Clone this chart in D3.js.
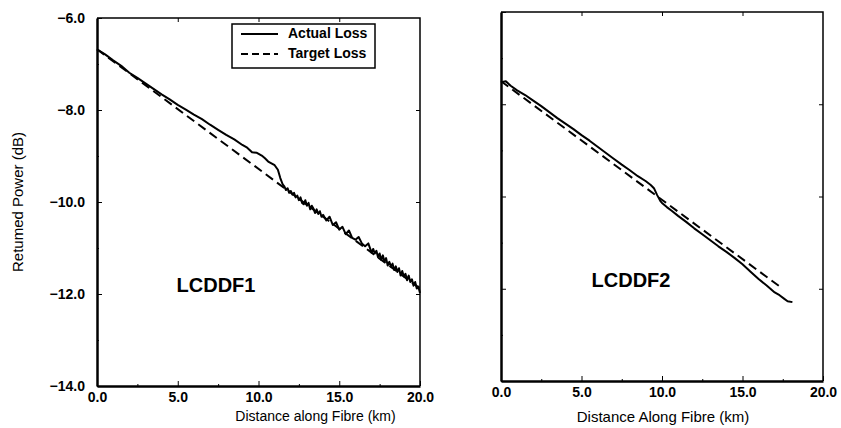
<!DOCTYPE html>
<html>
<head>
<meta charset="utf-8">
<script src="https://cdn.jsdelivr.net/npm/d3@7"></script>
<style>
  body { margin: 0; background: #fff; }
  svg { font-family: "Liberation Sans", Arial, sans-serif; }
</style>
</head>
<body>
<div id="chart"></div>
<script>
// distance (km) and returned power (dB)
const lcddf1Dist = [0, 0.5, 1.0, 1.5, 2.0, 2.5, 3.0, 3.5, 4.0, 4.5, 5.0, 5.5, 6.0, 6.5, 7.0, 7.5, 8.0, 8.5, 9.0, 9.3, 9.6, 9.9, 10.2, 10.4, 10.6, 10.8, 11.0, 11.2, 11.35, 11.5,
    11.6, 11.7, 11.8, 11.9, 12.0, 12.1, 12.2, 12.3, 12.4, 12.5, 12.6, 12.7, 12.8, 12.9, 13.0, 13.1, 13.2, 13.3, 13.4, 13.5, 13.6, 13.7, 13.8, 13.9, 14.0,
    14.2, 14.4, 14.6, 14.8, 15.0, 15.2, 15.4, 15.6, 15.8, 16.0, 16.2, 16.4, 16.6, 16.8, 17.0, 17.1, 17.2, 17.3, 17.4, 17.5, 17.6, 17.7, 17.8, 17.9, 18.0,
    18.1, 18.2, 18.3, 18.4, 18.5, 18.6, 18.7, 18.8, 18.9, 19.0, 19.1, 19.2, 19.3, 19.4, 19.5, 19.6, 19.7, 19.8, 19.9, 20.0];
const lcddf1Actual = [-6.68, -6.79, -6.92, -7.04, -7.19, -7.30, -7.42, -7.54, -7.66, -7.77, -7.89, -7.99, -8.10, -8.20, -8.32, -8.43, -8.54, -8.64, -8.76, -8.82, -8.92, -8.93, -8.99, -9.05, -9.12, -9.16, -9.20, -9.30, -9.48, -9.62,
    -9.66, -9.74, -9.70, -9.80, -9.76, -9.84, -9.80, -9.90, -9.86, -9.96, -9.90, -10.02, -10.05, -9.96, -10.08, -10.02, -10.16, -10.08, -10.14, -10.24, -10.16, -10.26, -10.20, -10.32, -10.28,
    -10.40, -10.32, -10.50, -10.44, -10.60, -10.54, -10.70, -10.62, -10.78, -10.82, -10.76, -10.90, -10.96, -10.90, -11.10, -11.02, -11.12, -11.06, -11.20, -11.12, -11.26, -11.16, -11.30, -11.22, -11.38,
    -11.30, -11.40, -11.34, -11.48, -11.40, -11.52, -11.44, -11.60, -11.50, -11.62, -11.56, -11.70, -11.60, -11.74, -11.68, -11.82, -11.74, -11.88, -11.84, -11.98];
const lcddf1TargetDist = [0, 20];
const lcddf1Target = [-6.68, -11.88];

const lcddf2Dist = [0, 0.3, 0.6, 1.0, 1.5, 2.0, 2.5, 3.0, 3.5, 4.0, 4.5, 5.0, 5.5, 6.0, 6.5, 7.0, 7.5, 8.0, 8.5, 9.0, 9.3, 9.5, 9.7, 9.9,
    10.0, 10.3, 10.6, 11.0, 11.5, 12.0, 12.5, 13.0, 13.5, 14.0, 14.5, 15.0, 15.5, 16.0, 16.5, 17.0, 17.3, 17.6, 17.8, 18.1];
const lcddf2Actual = [-7.52, -7.50, -7.60, -7.70, -7.80, -7.92, -8.04, -8.17, -8.30, -8.42, -8.54, -8.67, -8.79, -8.92, -9.05, -9.18, -9.31, -9.43, -9.56, -9.67, -9.75, -9.82, -9.97, -10.10,
    -10.14, -10.23, -10.31, -10.42, -10.55, -10.69, -10.82, -10.95, -11.08, -11.20, -11.33, -11.47, -11.63, -11.79, -11.93, -12.08, -12.14, -12.22, -12.27, -12.29];
const lcddf2TargetDist = [0, 17.5];
const lcddf2Target = [-7.50, -12.0];

const xTicks = [0, 5, 10, 15, 20];
const xMinor = [2.5, 7.5, 12.5, 17.5];
const yTicks = [-6, -8, -10, -12, -14];
const yMinor = [-7, -9, -11, -13];
const legendLabels = ["Actual Loss", "Target Loss"];

const svg = d3.select("#chart").append("svg")
    .attr("width", 841)
    .attr("height", 428);

const fmt = d3.format(".1f");
const zip = (xs, ys) => xs.map((x, i) => ({ x, y: ys[i] }));

function panel(opts) {
    const x = d3.scaleLinear().domain([0, 20]).range([opts.left, opts.right]);
    const y = d3.scaleLinear().domain([-14, -6]).range([opts.bottom, opts.top]);
    const g = svg.append("g");

    // minor ticks
    g.append("g").attr("transform", `translate(0,${opts.bottom})`)
        .call(d3.axisBottom(x).tickValues(xMinor).tickSize(-2).tickFormat(""))
        .call(a => a.select(".domain").remove());
    g.append("g").attr("transform", `translate(${opts.left},0)`)
        .call(d3.axisLeft(y).tickValues(yMinor).tickSize(-2).tickFormat(""))
        .call(a => a.select(".domain").remove());

    // top / right ticks
    g.append("g").attr("transform", `translate(0,${opts.top})`)
        .call(d3.axisTop(x).tickValues(xTicks.slice(1, 4)).tickSize(-4).tickFormat(""))
        .call(a => a.select(".domain").remove());
    g.append("g").attr("transform", `translate(${opts.right},0)`)
        .call(d3.axisRight(y).tickValues(yTicks.slice(1, 4)).tickSize(-4).tickFormat(""))
        .call(a => a.select(".domain").remove());

    // frame (thin top/right, heavy left/bottom)
    g.append("path")
        .attr("d", `M${opts.left},${opts.top}H${opts.right}V${opts.bottom}`)
        .attr("fill", "none").attr("stroke", "#000").attr("stroke-width", 1.5);

    const xAxis = g.append("g").attr("transform", `translate(0,${opts.bottom})`)
        .call(d3.axisBottom(x).tickValues(xTicks).tickSize(-5).tickSizeOuter(0).tickPadding(6).tickFormat(fmt));
    xAxis.select(".domain").attr("stroke-width", 2.5);
    xAxis.selectAll("text").attr("font-size", 14).attr("font-weight", "bold").attr("font-family", "Liberation Sans");

    const yAxis = g.append("g").attr("transform", `translate(${opts.left},0)`)
        .call(d3.axisLeft(y).tickValues(yTicks).tickSize(-5).tickSizeOuter(0).tickPadding(12)
            .tickFormat(opts.yLabels ? fmt : ""));
    yAxis.select(".domain").attr("stroke-width", 2.5);
    yAxis.selectAll("text").attr("font-size", 14).attr("font-weight", "bold").attr("font-family", "Liberation Sans");

    const line = d3.line().x(d => x(d.x)).y(d => y(d.y)).curve(d3.curveLinear);

    g.append("path")
        .datum(zip(opts.targetDist, opts.target))
        .attr("d", line)
        .attr("fill", "none").attr("stroke", "#000").attr("stroke-width", 2)
        .attr("stroke-dasharray", "9,5");

    g.append("path")
        .datum(zip(opts.dist, opts.actual))
        .attr("d", line)
        .attr("fill", "none").attr("stroke", "#000").attr("stroke-width", 2)
        .attr("stroke-linejoin", "round");

    g.append("text")
        .attr("x", opts.labelX).attr("y", opts.labelY)
        .attr("text-anchor", "middle").attr("dominant-baseline", "middle")
        .attr("font-size", 20).attr("font-weight", "bold")
        .text(opts.name);

    g.append("text")
        .attr("x", (opts.left + opts.right) / 2 + opts.titleShift).attr("y", opts.titleY)
        .attr("text-anchor", "middle").attr("dominant-baseline", "middle")
        .attr("font-size", opts.titleSize)
        .text(opts.title);

    return { x, y, g };
}

panel({
    left: 97, right: 420, top: 18, bottom: 386,
    dist: lcddf1Dist, actual: lcddf1Actual,
    targetDist: lcddf1TargetDist, target: lcddf1Target,
    name: "LCDDF1", labelX: 216, labelY: 287,
    title: "Distance along Fibre (km)", titleY: 417, titleShift: 57, titleSize: 14,
    yLabels: true
});

panel({
    left: 501, right: 823, top: 12, bottom: 381,
    dist: lcddf2Dist, actual: lcddf2Actual,
    targetDist: lcddf2TargetDist, target: lcddf2Target,
    name: "LCDDF2", labelX: 631, labelY: 282,
    title: "Distance Along Fibre (km)", titleY: 418, titleShift: 1, titleSize: 15,
    yLabels: false
});

// y axis title
svg.append("text")
    .attr("transform", "translate(19,202) rotate(-90)")
    .attr("text-anchor", "middle").attr("dominant-baseline", "middle")
    .attr("font-size", 15)
    .text("Retumed Power (dB)");

// legend in the first panel
const legend = svg.append("g").attr("transform", "translate(232,24)");
legend.append("rect")
    .attr("width", 143).attr("height", 44)
    .attr("fill", "#fff").attr("stroke", "#000").attr("stroke-width", 1.5);
legendLabels.forEach((label, i) => {
    const ly = 10 + i * 20;
    legend.append("line")
        .attr("x1", 9).attr("x2", 46).attr("y1", ly).attr("y2", ly)
        .attr("stroke", "#000").attr("stroke-width", 2)
        .attr("stroke-dasharray", i === 1 ? "7,4" : null);
    legend.append("text")
        .attr("x", 56).attr("y", ly)
        .attr("dominant-baseline", "middle")
        .attr("font-size", 14).attr("font-weight", "bold")
        .text(label);
});
</script>
</body>
</html>
